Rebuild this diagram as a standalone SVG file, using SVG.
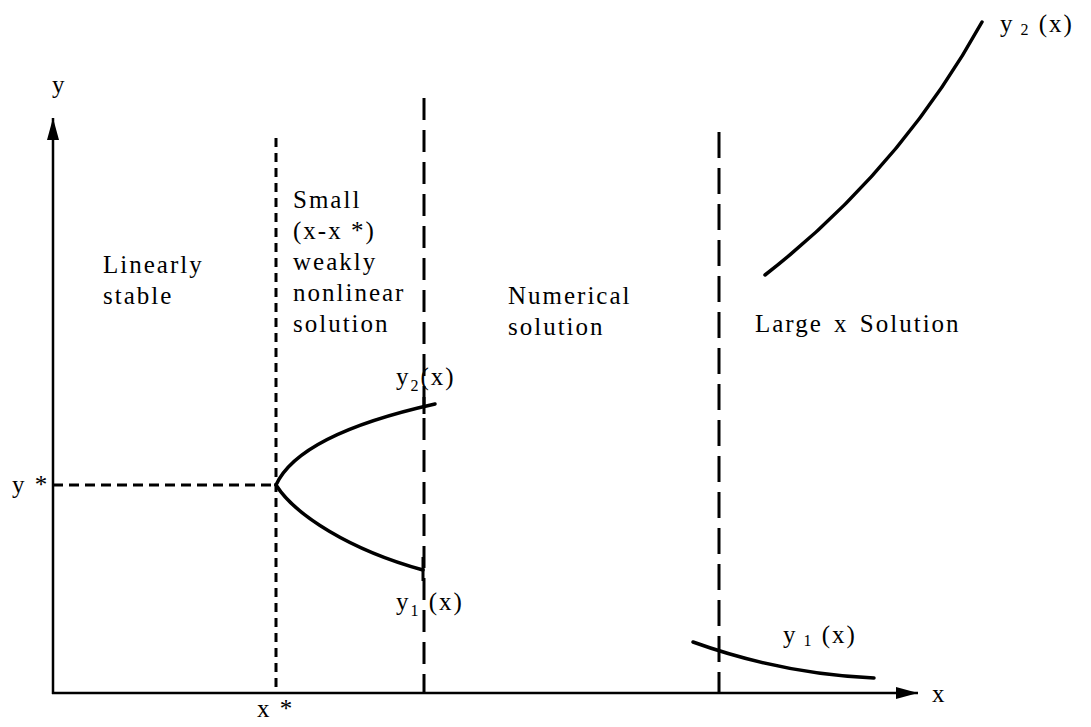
<svg xmlns="http://www.w3.org/2000/svg" width="1091" height="727" viewBox="0 0 1091 727">
<defs>
<style>
text{font-family:"Liberation Serif","Times New Roman",serif;font-size:25px;fill:#000;letter-spacing:2px}
.ax{stroke:#000;stroke-width:2.5;fill:none}
.d{stroke:#000;stroke-width:3;fill:none}
.c{stroke:#000;stroke-width:3.5;fill:none;stroke-linecap:round}
.t{stroke:#000;stroke-width:3;stroke-linecap:butt}
.sub{font-size:16px}
</style>
<marker id="ah" markerWidth="22" markerHeight="12" refX="22" refY="6" orient="auto" markerUnits="userSpaceOnUse">
<path d="M0,0 L22,6 L0,12 Z" fill="#000"/>
</marker>
</defs>
<rect width="1091" height="727" fill="#fff"/>
<g id="connectors">
<line id="y-axis" class="ax" x1="53" y1="694" x2="53" y2="118" marker-end="url(#ah)"/>
<line id="x-axis" class="ax" x1="52" y1="693" x2="918" y2="693" marker-end="url(#ah)"/>
<line id="ystar-line" class="d" x1="53" y1="485" x2="276" y2="485" stroke-dasharray="10 6"/>
<line id="xstar-line" class="d" x1="276" y1="138" x2="276" y2="693" stroke-dasharray="9 6"/>
<line id="num-line" class="d" x1="424" y1="98" x2="424" y2="693" stroke-dasharray="22 10"/>
<line id="large-line" class="d" x1="719" y1="132" x2="719" y2="693" stroke-dasharray="26 10"/>
</g>
<g id="bifurcation">
<path class="c" d="M276,485 C292,450 350,423 435,404"/>
<path class="c" d="M276,485 C295,515 350,550 423,570"/>
<line class="t" x1="424" y1="397" x2="424" y2="414"/>
<line class="t" x1="423" y1="557" x2="423" y2="581"/>
</g>
<g id="large-y2">
<path class="c" d="M765,275 Q900,170 982,22"/>
</g>
<g id="large-y1">
<path class="c" d="M693,642 Q782,674 874,678"/>
</g>
<g id="labels">
<text x="52" y="93">y</text>
<text x="932" y="702">x</text>
<text x="12" y="493">y *</text>
<text x="257" y="717">x *</text>
<text x="103" y="273">Linearly</text>
<text x="103" y="304">stable</text>
<text x="293" y="208">Small</text>
<text x="293" y="239">(x-x *)</text>
<text x="293" y="270">weakly</text>
<text x="293" y="301">nonlinear</text>
<text x="293" y="332">solution</text>
<text x="508" y="304">Numerical</text>
<text x="508" y="335">solution</text>
<text x="755" y="332" word-spacing="3">Large x Solution</text>
<text x="396" y="385">y<tspan class="sub" dy="6">2</tspan><tspan dy="-6">(x)</tspan></text>
<text x="396" y="610">y<tspan class="sub" dy="6">1</tspan><tspan dy="-6"> (x)</tspan></text>
<text x="1000" y="32">y<tspan class="sub" dy="3"> 2</tspan><tspan dy="-3">  (x)</tspan></text>
<text x="783" y="643">y<tspan class="sub" dy="3"> 1</tspan><tspan dy="-3">  (x)</tspan></text>
</g>
</svg>
